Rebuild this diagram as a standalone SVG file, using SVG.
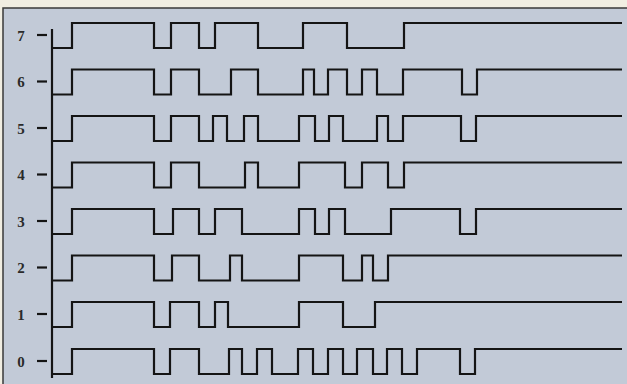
<svg xmlns="http://www.w3.org/2000/svg" width="627" height="384" viewBox="0 0 627 384">
<style>
.wave{fill:none;stroke:#141414;stroke-width:2.2;stroke-linejoin:miter;stroke-linecap:butt}
.tick{stroke:#141414;stroke-width:2.2}
.lbl{font-family:"Liberation Serif","DejaVu Serif",serif;font-size:15px;font-weight:bold;fill:#2a2a2a;text-anchor:middle}
</style>
<rect x="0" y="0" width="627" height="384" fill="#f1eee2"/>
<rect x="3" y="8" width="630" height="380" fill="#c2cad7" stroke="#3a3a3a" stroke-width="1.5"/>
<line id="axis" x1="52" y1="29" x2="52" y2="378" class="tick"/>
<g id="sig7"><text class="lbl" x="21" y="40.5">7</text><line class="tick" x1="37" y1="35" x2="47" y2="35"/>
<path class="wave" d="M52 48H72V23H154V48H171V23H199V48H215V23H258V48H303V23H347V48H404V23H622"/></g>
<g id="sig6"><text class="lbl" x="21" y="87">6</text><line class="tick" x1="37" y1="81.5" x2="47" y2="81.5"/>
<path class="wave" d="M52 94.5H72V69.5H154V94.5H171V69.5H199V94.5H231V69.5H258V94.5H303V69.5H314V94.5H328V69.5H347V94.5H362V69.5H377V94.5H403V69.5H462V94.5H477V69.5H622"/></g>
<g id="sig5"><text class="lbl" x="21" y="133.5">5</text><line class="tick" x1="37" y1="128" x2="47" y2="128"/>
<path class="wave" d="M52 141H72V116H154V141H171V116H199V141H213V116H227V141H244V116H258V141H299V116H315V141H329V116H343V141H377V116H388V141H403V116H461V141H476V116H622"/></g>
<g id="sig4"><text class="lbl" x="21" y="180">4</text><line class="tick" x1="37" y1="174.5" x2="47" y2="174.5"/>
<path class="wave" d="M52 187.5H72V162.5H154V187.5H171V162.5H199V187.5H245V162.5H258V187.5H299V162.5H345V187.5H362V162.5H388V187.5H404V162.5H622"/></g>
<g id="sig3"><text class="lbl" x="21" y="226.5">3</text><line class="tick" x1="37" y1="221" x2="47" y2="221"/>
<path class="wave" d="M52 234H72V209H154V234H173V209H199V234H215V209H242V234H299V209H315V234H329V209H345V234H391V209H460V234H476V209H622"/></g>
<g id="sig2"><text class="lbl" x="21" y="273">2</text><line class="tick" x1="37" y1="267.5" x2="47" y2="267.5"/>
<path class="wave" d="M52 280.5H72V255.5H154V280.5H172V255.5H199V280.5H230V255.5H242V280.5H299V255.5H343V280.5H362V255.5H373V280.5H388V255.5H622"/></g>
<g id="sig1"><text class="lbl" x="21" y="319.5">1</text><line class="tick" x1="37" y1="314" x2="47" y2="314"/>
<path class="wave" d="M52 327H72V302H154V327H170V302H199V327H215V302H228V327H299V302H343V327H375V302H622"/></g>
<g id="sig0"><text class="lbl" x="21" y="366.5">0</text><line class="tick" x1="37" y1="361" x2="47" y2="361"/>
<path class="wave" d="M52 374H72V349H154V374H170V349H199V374H229V349H242V374H257V349H272V374H298V349H313V374H328V349H343V374H357V349H373V374H387V349H402V374H417V349H460V374H475V349H622"/></g>
</svg>
